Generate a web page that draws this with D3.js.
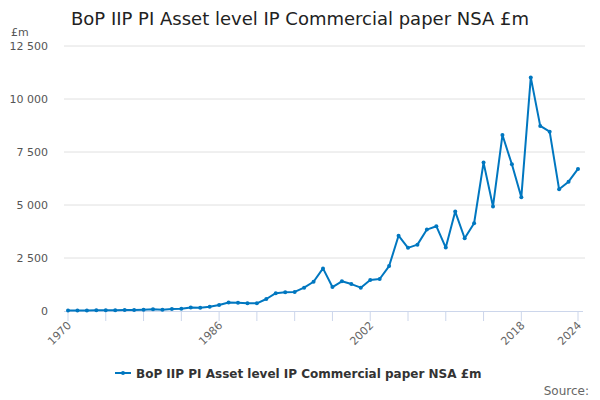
<!DOCTYPE html>
<html><head><meta charset="utf-8">
<script src="https://cdn.jsdelivr.net/npm/d3@7"></script>
<style>body{margin:0;background:#fff;font-family:"DejaVu Sans",sans-serif;}</style>
</head><body><svg id="c" width="600" height="400" font-family="DejaVu Sans"></svg>
<script>
const years = d3.range(1970, 2025);
const values = [20,20,20,30,30,30,45,45,60,80,60,95,110,170,155,200,280,400,390,360,360,566,840,880,900,1100,1380,2010,1130,1400,1270,1100,1460,1510,2120,3550,2980,3130,3840,4000,2990,4690,3430,4140,7000,4930,8300,6920,5370,11020,8730,8460,5740,6100,6700];
const yTicks = [0,2500,5000,7500,10000,12500];
const xTickYears = [1970,1974,1978,1982,1986,1990,1994,1998,2002,2006,2010,2014,2018,2024];
const xLabelYears = [1970,1986,2002,2018,2024];
const seriesName = "BoP IIP PI Asset level IP Commercial paper NSA £m";
const color = "#0077c0";

const svg = d3.select("#c");
const x = d3.scaleLinear().domain([1970, 2024]).range([68, 578]);
const y = d3.scaleLinear().domain([0, 12500]).range([311, 46]);
const fmt = v => d3.format(",")(v).replace(/,/g, " ");

svg.append("text").attr("x", 300).attr("y", 25).attr("text-anchor", "middle")
  .attr("font-size", 18).attr("fill", "#222").text("BoP IIP PI Asset level IP Commercial paper NSA £m");
svg.append("text").attr("x", 11).attr("y", 36).attr("font-size", 11).attr("fill", "#555").text("£m");

const gy = svg.append("g");
yTicks.forEach(t => {
  if (t > 0) gy.append("line").attr("x1", 64).attr("x2", 585).attr("y1", y(t)).attr("y2", y(t))
    .attr("stroke", "#e0e0e0").attr("stroke-width", 1);
  gy.append("text").attr("x", 48).attr("y", y(t) + 4).attr("text-anchor", "end")
    .attr("font-size", 11).attr("fill", "#555").text(t === 0 ? "0" : fmt(t));
});

// x axis
svg.append("line").attr("x1", 64).attr("x2", 583).attr("y1", 311.5).attr("y2", 311.5)
  .attr("stroke", "#ccd6eb").attr("stroke-width", 1);
xTickYears.forEach(yr => {
  svg.append("line").attr("x1", x(yr)).attr("x2", x(yr)).attr("y1", 311).attr("y2", 321)
    .attr("stroke", "#ccd6eb").attr("stroke-width", 1);
});
xLabelYears.forEach(yr => {
  svg.append("text").attr("transform", `translate(${x(yr)+4},${326}) rotate(-45)`)
    .attr("text-anchor", "end").attr("font-size", 11).attr("fill", "#666").text(yr);
});

const data = years.map((yr, i) => ({yr, v: values[i]}));
svg.append("path").datum(data)
  .attr("d", d3.line().x(d => x(d.yr)).y(d => y(d.v)))
  .attr("fill", "none").attr("stroke", color).attr("stroke-width", 2).attr("stroke-linejoin", "round");
svg.append("g").selectAll("circle").data(data).join("circle")
  .attr("cx", d => x(d.yr)).attr("cy", d => y(d.v)).attr("r", 2).attr("fill", color);

// legend
const lg = svg.append("g");
lg.append("line").attr("x1", 115).attr("x2", 131).attr("y1", 373).attr("y2", 373).attr("stroke", color).attr("stroke-width", 2);
lg.append("circle").attr("cx", 123).attr("cy", 373).attr("r", 2).attr("fill", color);
lg.append("text").attr("x", 136).attr("y", 377.5).attr("font-size", 12).attr("font-weight", "bold")
  .attr("fill", "#333").text(seriesName);

svg.append("text").attr("x", 589).attr("y", 395).attr("text-anchor", "end")
  .attr("font-size", 12).attr("fill", "#666").text("Source:");
</script></body></html>
